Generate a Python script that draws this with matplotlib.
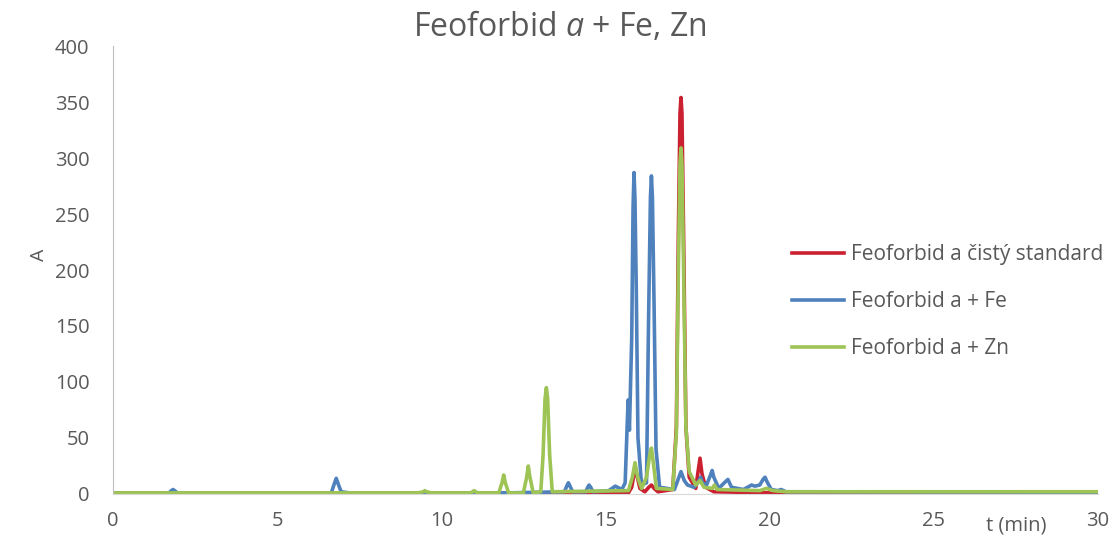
import matplotlib.pyplot as plt

plt.rcParams['font.family'] = ['Open Sans', 'DejaVu Sans']
plt.rcParams['mathtext.fontset'] = 'custom'
plt.rcParams['mathtext.it'] = 'Open Sans:italic'
plt.rcParams['mathtext.rm'] = 'Open Sans'

# chromatograms, t in min, absorbance A
t_std = [0, 9.0, 14.6, 15.7, 15.8, 15.86, 15.92, 15.98, 16.05, 16.2, 16.32, 16.4,
         16.48, 16.6, 17.05, 17.16, 17.22, 17.27, 17.3, 17.33, 17.38, 17.45, 17.55,
         17.75, 17.82, 17.88, 17.94, 18.05, 18.3, 20.0, 30.0]
a_std = [0.5, 0.5, 0.5, 1, 6, 16, 20, 14, 5, 2, 6, 8,
         5, 2, 4, 60, 230, 340, 354, 340, 230, 60, 15,
         5, 20, 32, 18, 6, 2, 1, 1]

t_fe = [0, 1.7, 1.78, 1.83, 1.88, 1.96, 6.65, 6.74, 6.8, 6.86, 6.95, 7.2,
        12.0, 13.75, 13.82, 13.87, 13.92, 14.0, 14.4, 14.46, 14.5, 14.55, 14.62,
        15.1, 15.3, 15.5, 15.6, 15.66, 15.69, 15.73, 15.8, 15.84, 15.87, 15.9,
        15.94, 15.99, 16.1, 16.25, 16.31, 16.37, 16.4, 16.43, 16.48, 16.54, 16.65,
        17.1, 17.2, 17.3, 17.4, 17.5, 17.7, 17.85, 17.9, 17.95, 18.08, 18.2,
        18.25, 18.3, 18.45, 18.62, 18.73, 18.84, 19.2, 19.45, 19.55, 19.7, 19.8,
        19.86, 19.92, 20.05, 20.25, 20.35, 20.5, 30.0]
a_fe = [1, 1, 3, 4, 3, 1, 1, 9, 14, 9, 2, 1,
        1, 2, 7, 10, 7, 2, 2, 6, 8, 6, 2,
        3, 7, 4, 10, 60, 84, 57, 140, 255, 287, 262,
        180, 50, 8, 10, 150, 265, 284, 265, 170, 40, 6,
        4, 12, 20, 12, 8, 6, 12, 15, 10, 8, 17,
        21, 15, 5, 10, 13, 6, 4, 8, 7, 8, 13,
        15, 11, 4, 3, 4, 2, 1.5]

t_zn = [0, 9.3, 9.45, 9.5, 9.55, 9.7, 10.9, 11.0, 11.1, 11.75, 11.85, 11.9,
        11.95, 12.05, 12.5, 12.6, 12.65, 12.7, 12.8, 13.03, 13.1, 13.16, 13.2,
        13.24, 13.3, 13.38, 15.7, 15.82, 15.9, 15.98, 16.1, 16.25, 16.35, 16.4,
        16.45, 16.55, 17.05, 17.16, 17.22, 17.27, 17.3, 17.33, 17.38, 17.45,
        17.55, 17.75, 17.88, 18.0, 18.25, 18.32, 18.4, 19.7, 19.9, 20.1, 20.5, 30.0]
a_zn = [1, 1, 2, 3, 2, 1, 1, 3, 1, 1, 10, 17,
        10, 1, 1, 15, 25, 15, 1, 2, 35, 85, 95,
        85, 35, 2, 3, 15, 28, 15, 5, 15, 35, 41,
        30, 5, 4, 55, 200, 295, 309, 295, 200, 60,
        20, 8, 12, 6, 5, 8, 4, 3, 5, 3, 2, 2]

labels = ['Feoforbid a čistý standard', 'Feoforbid a + Fe', 'Feoforbid a + Zn']
colors = ['#CB2030', '#4F81BD', '#9DC455']

fig = plt.figure(figsize=(11.14, 5.4), dpi=100)
ax = fig.add_axes([0.1014, 0.0852, 0.8842, 0.8296])

for t, a, lab, c in zip([t_std, t_fe, t_zn], [a_std, a_fe, a_zn], labels, colors):
    ax.plot(t, a, color=c, lw=2.6, label=lab, solid_joinstyle='round')

ax.set_xlim(0, 30)
ax.set_ylim(0, 400)
ax.set_xticks(range(0, 31, 5))
ax.set_yticks(range(0, 401, 50))
ax.tick_params(length=0, labelsize=14.5, labelcolor='#595959')
ax.tick_params(axis='y', pad=17)
ax.tick_params(axis='x', pad=12)
for s in ['top', 'right']:
    ax.spines[s].set_visible(False)
ax.spines['left'].set_color('#BFBFBF')
ax.spines['bottom'].set_color('#D9D9D9')

ax.set_ylabel('A', fontsize=14, color='#595959')
ax.yaxis.set_label_coords(-0.066, 0.533)
ax.text(27.5, -0.07, 't (min)', transform=ax.get_xaxis_transform(),
        ha='center', va='center', fontsize=14.5, color='#595959')

fig.text(0.503, 0.95, r'Feoforbid $a$ + Fe, Zn', ha='center', va='center',
         fontsize=23, color='#595959')

ax.legend(loc='upper left', bbox_to_anchor=(0.6943, 0.583), bbox_transform=fig.transFigure,
          frameon=False, fontsize=15, handlelength=2.5, handletextpad=0.34,
          labelspacing=1.26, labelcolor='#595959')

fig.savefig('out.png', dpi=100)
